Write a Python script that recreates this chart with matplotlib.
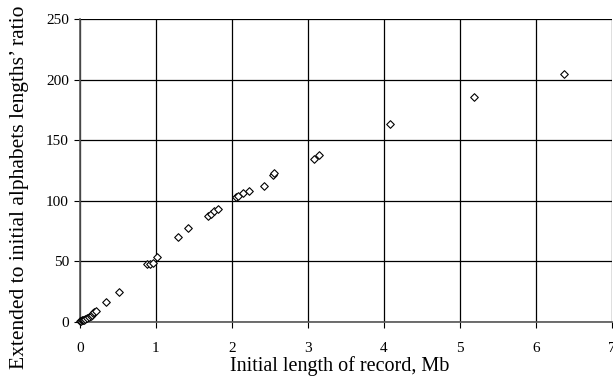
import numpy as np
import matplotlib
matplotlib.use("Agg")
import matplotlib.pyplot as plt

# Initial record length (Mb) vs. extended/initial alphabet length ratio
length_mb = [0.005, 0.01, 0.02, 0.035, 0.05, 0.065, 0.09, 0.12, 0.14, 0.155,
             0.175, 0.19, 0.21, 0.34, 0.51, 0.885, 0.92, 0.965, 1.01,
             1.29, 1.42, 1.68, 1.73, 1.77, 1.82, 2.05, 2.08, 2.14, 2.22,
             2.42, 2.54, 2.55, 3.08, 3.15, 4.08, 5.19, 6.37]
ratio = [0.5, 1.0, 1.3, 1.7, 2.0, 2.2, 3.1, 4.4, 5.2, 6.1,
         7.8, 8.5, 9.4, 16.9, 24.7, 47.8, 47.8, 49.0, 53.6,
         70.5, 77.6, 87.7, 89.1, 91.2, 93.4, 103.3, 104.1, 106.6, 108.2,
         112.0, 121.5, 122.8, 134.2, 137.4, 163.6, 185.6, 204.8]

plt.rcParams['font.family'] = ['Liberation Serif', 'DejaVu Serif']

fig = plt.figure(figsize=(6.13, 3.78), dpi=100)
ax = fig.add_axes([0.1305, 0.148, 0.8675, 0.802])

ax.scatter(length_mb, ratio, marker='D', s=15, facecolors='white',
           edgecolors='black', linewidths=0.8, zorder=3, clip_on=False)

ax.set_xlim(0, 7)
ax.set_ylim(0, 250)
ax.set_xticks(np.arange(0, 8, 1))
ax.set_yticks(np.arange(0, 251, 50))

ax.grid(True, color='black', linewidth=0.9)
ax.set_axisbelow(True)
for side in ['top', 'right']:
    ax.spines[side].set_visible(False)
for side in ['left', 'bottom']:
    ax.spines[side].set_color('#555555')
    ax.spines[side].set_linewidth(1.2)

ax.tick_params(axis='x', direction='out', length=4, pad=10, labelsize=11)
ax.tick_params(axis='y', direction='out', length=4, pad=4, labelsize=11)

ax.set_xlabel('Initial length of record, Mb', fontsize=14.5)
ax.xaxis.set_label_coords(0.489, -0.113)
ax.set_ylabel('Extended to initial alphabets lengths\u2019 ratio', fontsize=15.5)
ax.yaxis.set_label_coords(-0.096, 0.446)

fig.savefig('out.png', dpi=100)
